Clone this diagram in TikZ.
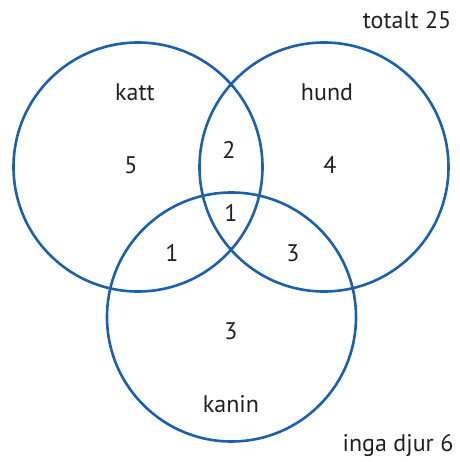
\documentclass[tikz,border=0pt]{standalone}
\usepackage{fontspec}
\setmainfont{PT Sans}
\definecolor{vblue}{RGB}{30,95,172}
\definecolor{vtext}{RGB}{35,31,32}
\begin{document}
\begin{tikzpicture}[x=1pt,y=-1pt,
  ring/.style={draw=vblue,line width=2.6pt},
  lbl/.style={text=vtext,font=\fontsize{24}{28}\selectfont,inner sep=0pt}]
\useasboundingbox (0,0) rectangle (459,462);
\draw[ring] (138,167) circle[radius=124.5];
\draw[ring] (324,167) circle[radius=124.5];
\draw[ring] (231.5,317) circle[radius=124.5];
\node[lbl] (tot) at (407,20) {totalt 25};
\node[lbl] (katt) at (135,92) {katt};
\node[lbl] (hund) at (327,92) {hund};
\node[lbl] (k) at (131,165) {5};
\node[lbl] (kh) at (229,150) {2};
\node[lbl] (h) at (330,165) {4};
\node[lbl] (khk) at (231,213) {1};
\node[lbl] (kk) at (172,253) {1};
\node[lbl] (hk) at (293,253) {3};
\node[lbl] (kn) at (231,331) {3};
\node[lbl] (kanin) at (231,404) {kanin};
\node[lbl] (inga) at (398,445) {inga djur 6};
\end{tikzpicture}
\end{document}
